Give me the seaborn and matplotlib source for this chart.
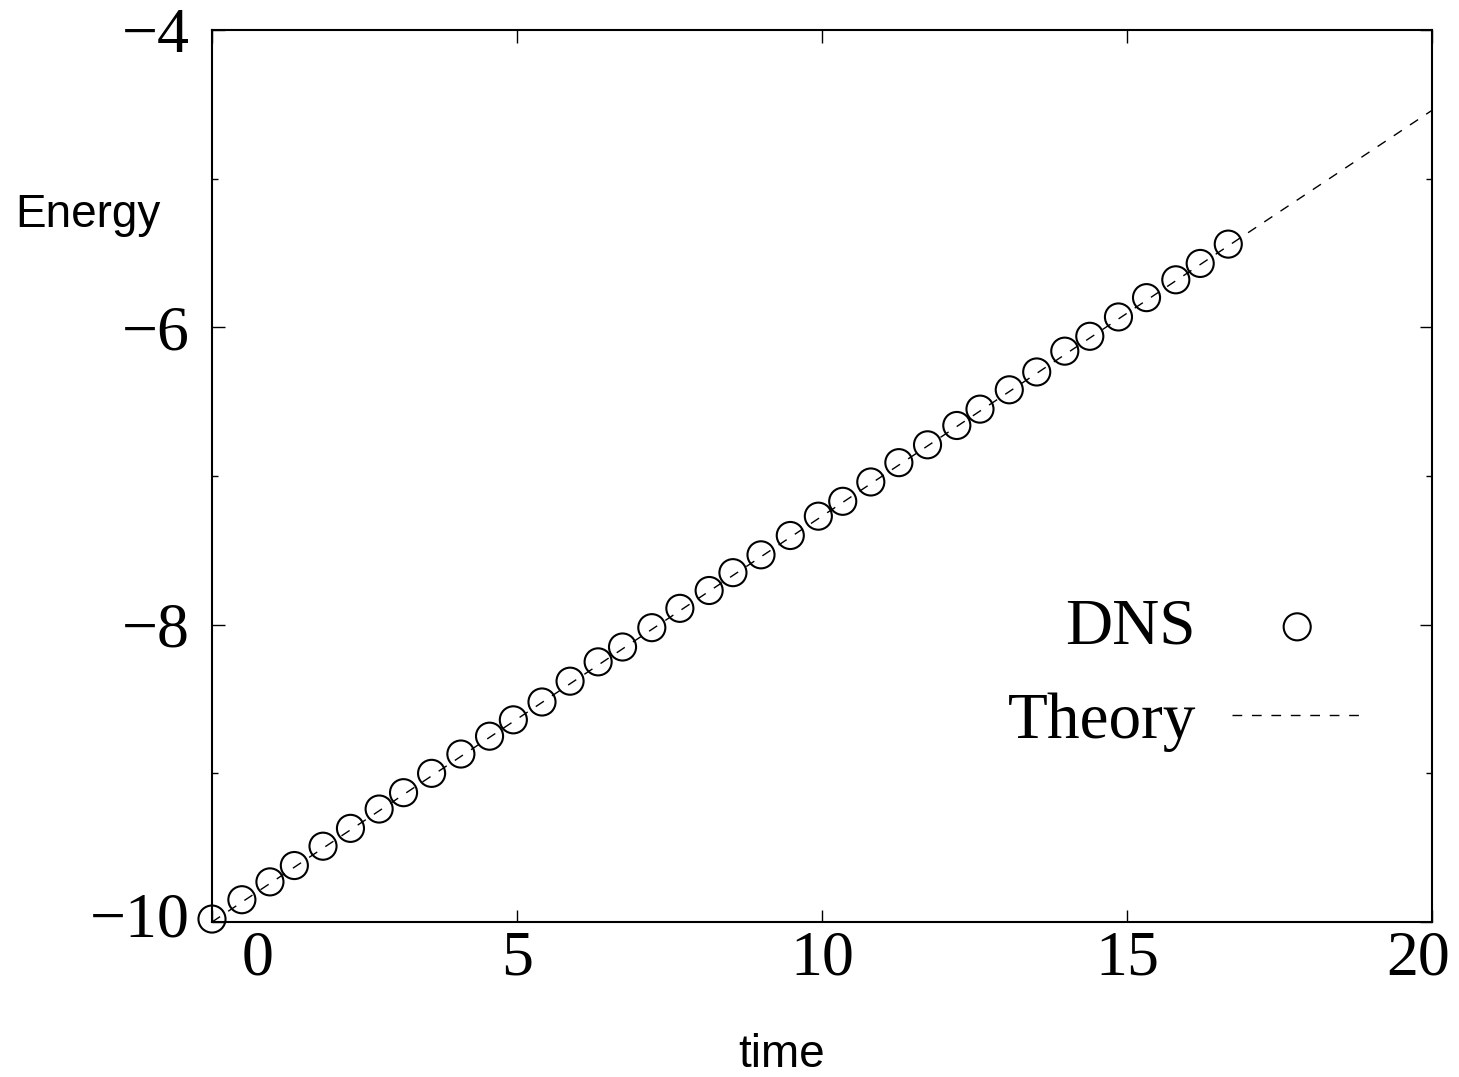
"""
plot.py
DNS energy growth compared against the linear theory prediction.
"""

import numpy as np
import pandas as pd
import matplotlib
matplotlib.use("Agg")
import matplotlib.pyplot as plt
import matplotlib.transforms as mtransforms
import seaborn as sns

# ----------------------------------------------------------------
# 1. Data
# ----------------------------------------------------------------
dns_time = [0.0, 0.49, 0.95, 1.35, 1.82, 2.27, 2.74, 3.14, 3.60, 4.08,
            4.55, 4.94, 5.41, 5.87, 6.33, 6.73, 7.21, 7.67, 8.15, 8.54,
            9.00, 9.48, 9.94, 10.34, 10.80, 11.26, 11.73, 12.21, 12.59, 13.07,
            13.52, 13.98, 14.39, 14.86, 15.32, 15.80, 16.20, 16.66]
dns_energy = [-9.98, -9.85, -9.73, -9.62, -9.49, -9.37, -9.24, -9.13, -9.00, -8.87,
              -8.75, -8.64, -8.52, -8.38, -8.25, -8.15, -8.02, -7.89, -7.77, -7.65,
              -7.53, -7.40, -7.27, -7.17, -7.04, -6.91, -6.79, -6.66, -6.55, -6.42,
              -6.30, -6.16, -6.06, -5.93, -5.80, -5.68, -5.57, -5.44]

theory_time = [0.0, 20.0]
theory_energy = [-10.0, -4.54]

xticks = [0, 5, 10, 15, 20]
yticks = [-10, -8, -6, -4]
yticks_minor = [-9, -7, -5]

dns = pd.DataFrame({"time": dns_time, "energy": dns_energy})
theory = pd.DataFrame({"time": theory_time, "energy": theory_energy})

# ----------------------------------------------------------------
# 2. Style
# ----------------------------------------------------------------
sns.set_style("ticks")
plt.rcParams["font.family"] = ["Liberation Serif", "DejaVu Serif"]
plt.rcParams["text.color"] = "black"
plt.rcParams["axes.labelcolor"] = "black"

fig = plt.figure(figsize=(14.59, 10.77), dpi=100)
ax = fig.add_axes([0.1453, 0.1439, 0.8362, 0.8282])

# ----------------------------------------------------------------
# 3. Plot
# ----------------------------------------------------------------
sns.lineplot(data=theory, x="time", y="energy", ax=ax, color="black",
             linewidth=1.0, linestyle=(0, (7, 7)), label="Theory", zorder=2)
sns.scatterplot(data=dns, x="time", y="energy", ax=ax, marker="o",
                facecolors="none", edgecolor="black", linewidth=1.5, s=380,
                label="DNS", zorder=3, clip_on=False)

ax.set_xlim(0, 20)
ax.set_ylim(-10, -4)
ax.set_xticks(xticks)
ax.set_yticks(yticks)
ax.set_yticks(yticks_minor, minor=True)
ax.set_xticklabels([str(t) for t in xticks])
ax.set_yticklabels([f"\u2212{abs(t)}" for t in yticks])

ax.tick_params(which="both", direction="in", top=True, right=True,
               labelsize=46, width=1.0, colors="black")
ax.tick_params(which="major", length=9, pad=6)
ax.tick_params(axis="y", which="major", pad=16)
ax.tick_params(which="minor", length=4.5)
for side in ax.spines.values():
    side.set_linewidth(1.5)
    side.set_color("black")
    side.set_visible(True)

# end labels sit inside the axis range, as in the original
xlabs = ax.get_xticklabels()
xlabs[0].set_transform(xlabs[0].get_transform() +
                       mtransforms.ScaledTranslation(0.46, 0, fig.dpi_scale_trans))
xlabs[-1].set_transform(xlabs[-1].get_transform() +
                        mtransforms.ScaledTranslation(-0.14, 0, fig.dpi_scale_trans))
ylabs = ax.get_yticklabels()
ylabs[0].set_transform(ylabs[0].get_transform() +
                       mtransforms.ScaledTranslation(0, 0.08, fig.dpi_scale_trans))

ax.set_xlabel("time", family="Liberation Sans", fontsize=33, va="center")
ax.set_ylabel("Energy", family="Liberation Sans", fontsize=33,
              rotation=0, ha="center", va="center")
ax.xaxis.set_label_coords(0.467, -0.149)
ax.yaxis.set_label_coords(-0.102, 0.793)

handles, labels = ax.get_legend_handles_labels()
order = [labels.index("DNS"), labels.index("Theory")]
leg = ax.legend([handles[i] for i in order], [labels[i] for i in order],
                loc="center right", bbox_to_anchor=(0.943, 0.277),
                frameon=False, markerfirst=False, fontsize=47,
                handlelength=2.0, handletextpad=0.55, labelspacing=0.52,
                borderpad=0, borderaxespad=0)
for txt in leg.get_texts():
    txt.set_color("black")

fig.savefig("out.png", dpi=100)
